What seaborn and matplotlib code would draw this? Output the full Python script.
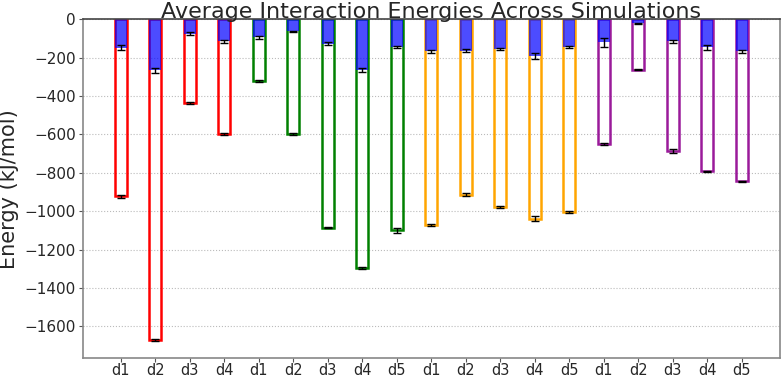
import matplotlib
matplotlib.use("Agg")
import matplotlib.pyplot as plt
import seaborn as sns
import pandas as pd
import numpy as np

labels = ["d1", "d2", "d3", "d4",
          "d1", "d2", "d3", "d4", "d5",
          "d1", "d2", "d3", "d4", "d5",
          "d1", "d2", "d3", "d4", "d5"]
groups = ["A"] * 4 + ["B"] * 5 + ["C"] * 5 + ["D"] * 5
total_energy = [-921, -1672, -434, -598,
                -322, -598, -1085, -1294, -1099,
                -1073, -914, -978, -1039, -1004,
                -650, -262, -688, -792, -844]
total_err = [8, 6, 5, 6,
             5, 6, 4, 5, 12,
             4, 8, 4, 12, 5,
             4, 3, 10, 3, 3]
part_energy = [-148, -265, -75, -115,
               -94, -63, -128, -262, -144,
               -167, -163, -154, -189, -144,
               -120, -20, -115, -146, -167]
part_err = [12, 12, 8, 10,
            6, 3, 8, 10, 6,
            8, 6, 5, 15, 5,
            25, 2, 8, 15, 6]
group_colors = {"A": "red", "B": "green", "C": "orange", "D": "#9a1a9a"}

ids = [f"{g}{i}" for i, g in enumerate(groups)]
df = pd.DataFrame({"id": ids, "label": labels, "group": groups,
                   "total": total_energy, "terr": total_err,
                   "part": part_energy, "perr": part_err})

sns.set_style("white")
plt.rcParams["font.family"] = ["DejaVu Sans"]

fig = plt.figure(figsize=(7.82, 3.8), dpi=100)
ax = fig.add_axes([0.106, 0.058, 0.891, 0.891])

sns.barplot(data=df, x="id", y="total", hue="group", order=ids,
            palette=group_colors, fill=False, width=0.35, dodge=False,
            saturation=1, linewidth=1.8, legend=False, errorbar=None, ax=ax)
sns.barplot(data=df, x="id", y="part", order=ids, color="blue", alpha=0.7,
            saturation=1, width=0.35, linewidth=0, errorbar=None, ax=ax)

pos = np.arange(len(ids))
ax.errorbar(pos, df["total"], yerr=df["terr"], fmt="none", ecolor="black",
            elinewidth=1, capsize=3, zorder=5)
ax.errorbar(pos, df["part"], yerr=df["perr"], fmt="none", ecolor="black",
            elinewidth=1, capsize=3, zorder=5)

ax.set_xticks(pos)
ax.set_xticklabels(labels, fontsize=10.5)
ax.tick_params(axis="y", labelsize=11, pad=2)
ax.tick_params(axis="x", pad=0.5)
ax.tick_params(axis="both", which="major", length=3, color="#555555",
               bottom=True, left=True)
ax.set_xlim(-1.1, len(ids) - 1 + 1.1)
ax.set_ylim(-1765, 0)
ax.set_yticks(np.arange(-1600, 1, 200))
ax.yaxis.grid(True, linestyle=":", color="#bbbbbb", linewidth=0.8)
ax.set_axisbelow(True)
ax.set_xlabel("")
ax.set_ylabel("Energy (kJ/mol)", fontsize=15, labelpad=4)
ax.set_title("Average Interaction Energies Across Simulations", fontsize=16, pad=1)
for s in ax.spines.values():
    s.set_color("#888888")
    s.set_linewidth(1.2)
ax.spines["top"].set_color("#444444")

fig.savefig("out.png", dpi=100)
